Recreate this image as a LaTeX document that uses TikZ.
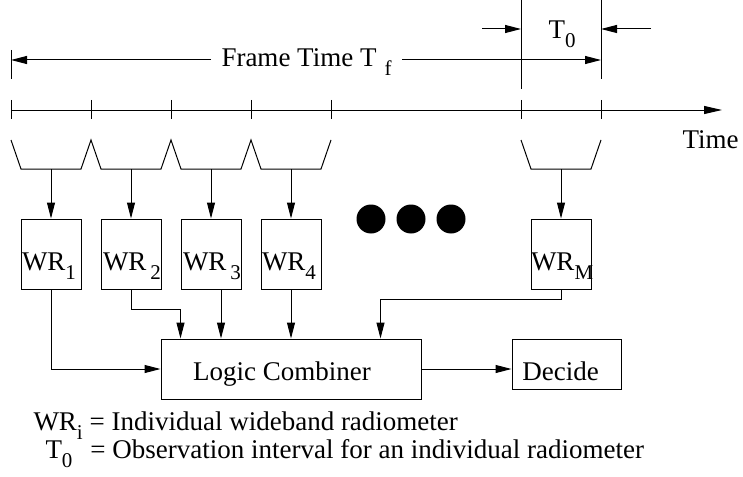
\documentclass[tikz,border=0pt]{standalone}
\usepackage{fontspec}
\setmainfont{Liberation Serif}
\usetikzlibrary{arrows.meta}
\newcommand{\lowsub}[1]{\raisebox{-9pt}{\fontsize{21}{21}\selectfont #1}}
\tikzset{
  wrbox/.style={draw, minimum width=60pt, minimum height=70pt, inner sep=0pt},
  lbl/.style={anchor=base west, inner sep=0pt},
}
\begin{document}
\begin{tikzpicture}[x=1pt, y=-1pt, >={Triangle[length=16pt,width=8pt]}, line width=1pt, font=\fontsize{27}{32}\selectfont]
    \useasboundingbox (0,0) rectangle (743,476);
    % Frame time and T0 markers
    \draw (11,50) -- (11,79);
    \draw (521,0) -- (521,89);
    \draw (601,0) -- (601,79);
    \coordinate (frl) at (11,60);
    \coordinate (frr) at (601,60);
    \node[lbl, inner xsep=10pt] (frame) at (211,67) {Frame Time T\hspace{8pt}\lowsub{f}};
    \draw[->] (frame.west |- frl) -- (frl);
    \draw[->] (frame.east |- frr) -- (frr);
    \coordinate (tal) at (482,29);
    \coordinate (ta) at (521,29);
    \coordinate (tbr) at (651,29);
    \coordinate (tb) at (601,29);
    \draw[->] (tal) -- (ta);
    \draw[->] (tbr) -- (tb);
    \node[lbl] (tzero) at (548,39) {T\lowsub{0}};

    % Time axis
    \coordinate (ax0) at (11,110);
    \coordinate (ax1) at (722,110);
    \draw[->, >={Triangle[length=18pt,width=8pt]}] (ax0) -- (ax1);
    \foreach \x in {11,91,171,251,331,521,601}
        \draw (\x,100) -- (\x,119);
    \node[lbl] (timelbl) at (682,148) {Time};

    % Observation windows
    \draw (11,140) \foreach \k in {1,...,4} { -- ++(10,29) -- ++(60,0) -- ++(10,-29) };
    \draw (521,140) -- ++(10,29) -- ++(60,0) -- ++(10,-29);

    % Radiometers
    \foreach \n/\x in {1/51,2/131,3/211,4/291,M/561} {
        \node[wrbox] (wr\n) at (\x,254) {};
        \coordinate (win\n) at (\x,169);
        \draw[->] (win\n) -- (wr\n.north);
    }
    \node[lbl] (wr1txt) at ([shift={(1,-19)}]wr1.south west) {WR\lowsub{1}};
    \node[lbl] (wr2txt) at ([shift={(2,-19)}]wr2.south west) {WR\hspace{4pt}\lowsub{2}};
    \node[lbl] (wr3txt) at ([shift={(2,-19)}]wr3.south west) {WR\hspace{4pt}\lowsub{3}};
    \node[lbl] (wr4txt) at ([shift={(1,-19)}]wr4.south west) {WR\lowsub{4}};
    \node[lbl] (wrMtxt) at ([shift={(0,-19)}]wrM.south west) {WR\lowsub{M}};

    % Dots
    \foreach \x in {371,411,451}
        \fill (\x,219) circle (14.5);

    % Combiner and decision
    \node[draw, minimum width=260pt, minimum height=60pt, inner sep=0pt] (comb) at (291,369) {};
    \node[anchor=base] (combtxt) at (282,380) {Logic Combiner};
    \node[draw, minimum width=109pt, minimum height=50pt, inner sep=0pt] (dec) at (566.5,364) {};
    \node[anchor=base] (dectxt) at (560.5,380) {Decide};

    \draw[->] (wr1.south) |- (comb.west);
    \draw[->] (wr2.south) -- ++(0,20) -| ([xshift=20pt]comb.north west);
    \coordinate (o3) at ([xshift=10pt]wr3.south);
    \draw[->] (o3) -- (o3 |- comb.north);
    \draw[->] (wr4.south) -- (wr4.south |- comb.north);
    \draw[->] (wrM.south) -- ++(0,10) -| ([xshift=220pt]comb.north west);
    \draw[->] (comb.east) -- (comb.east -| dec.west);

    % Legend
    \node[lbl] (leg1) at (33,430) {WR\lowsub{i} = Individual wideband radiometer};
    \node[lbl] (leg2) at (45,458) {T\lowsub{0}\hspace{18pt}= Observation interval for an individual radiometer};
\end{tikzpicture}
\end{document}
